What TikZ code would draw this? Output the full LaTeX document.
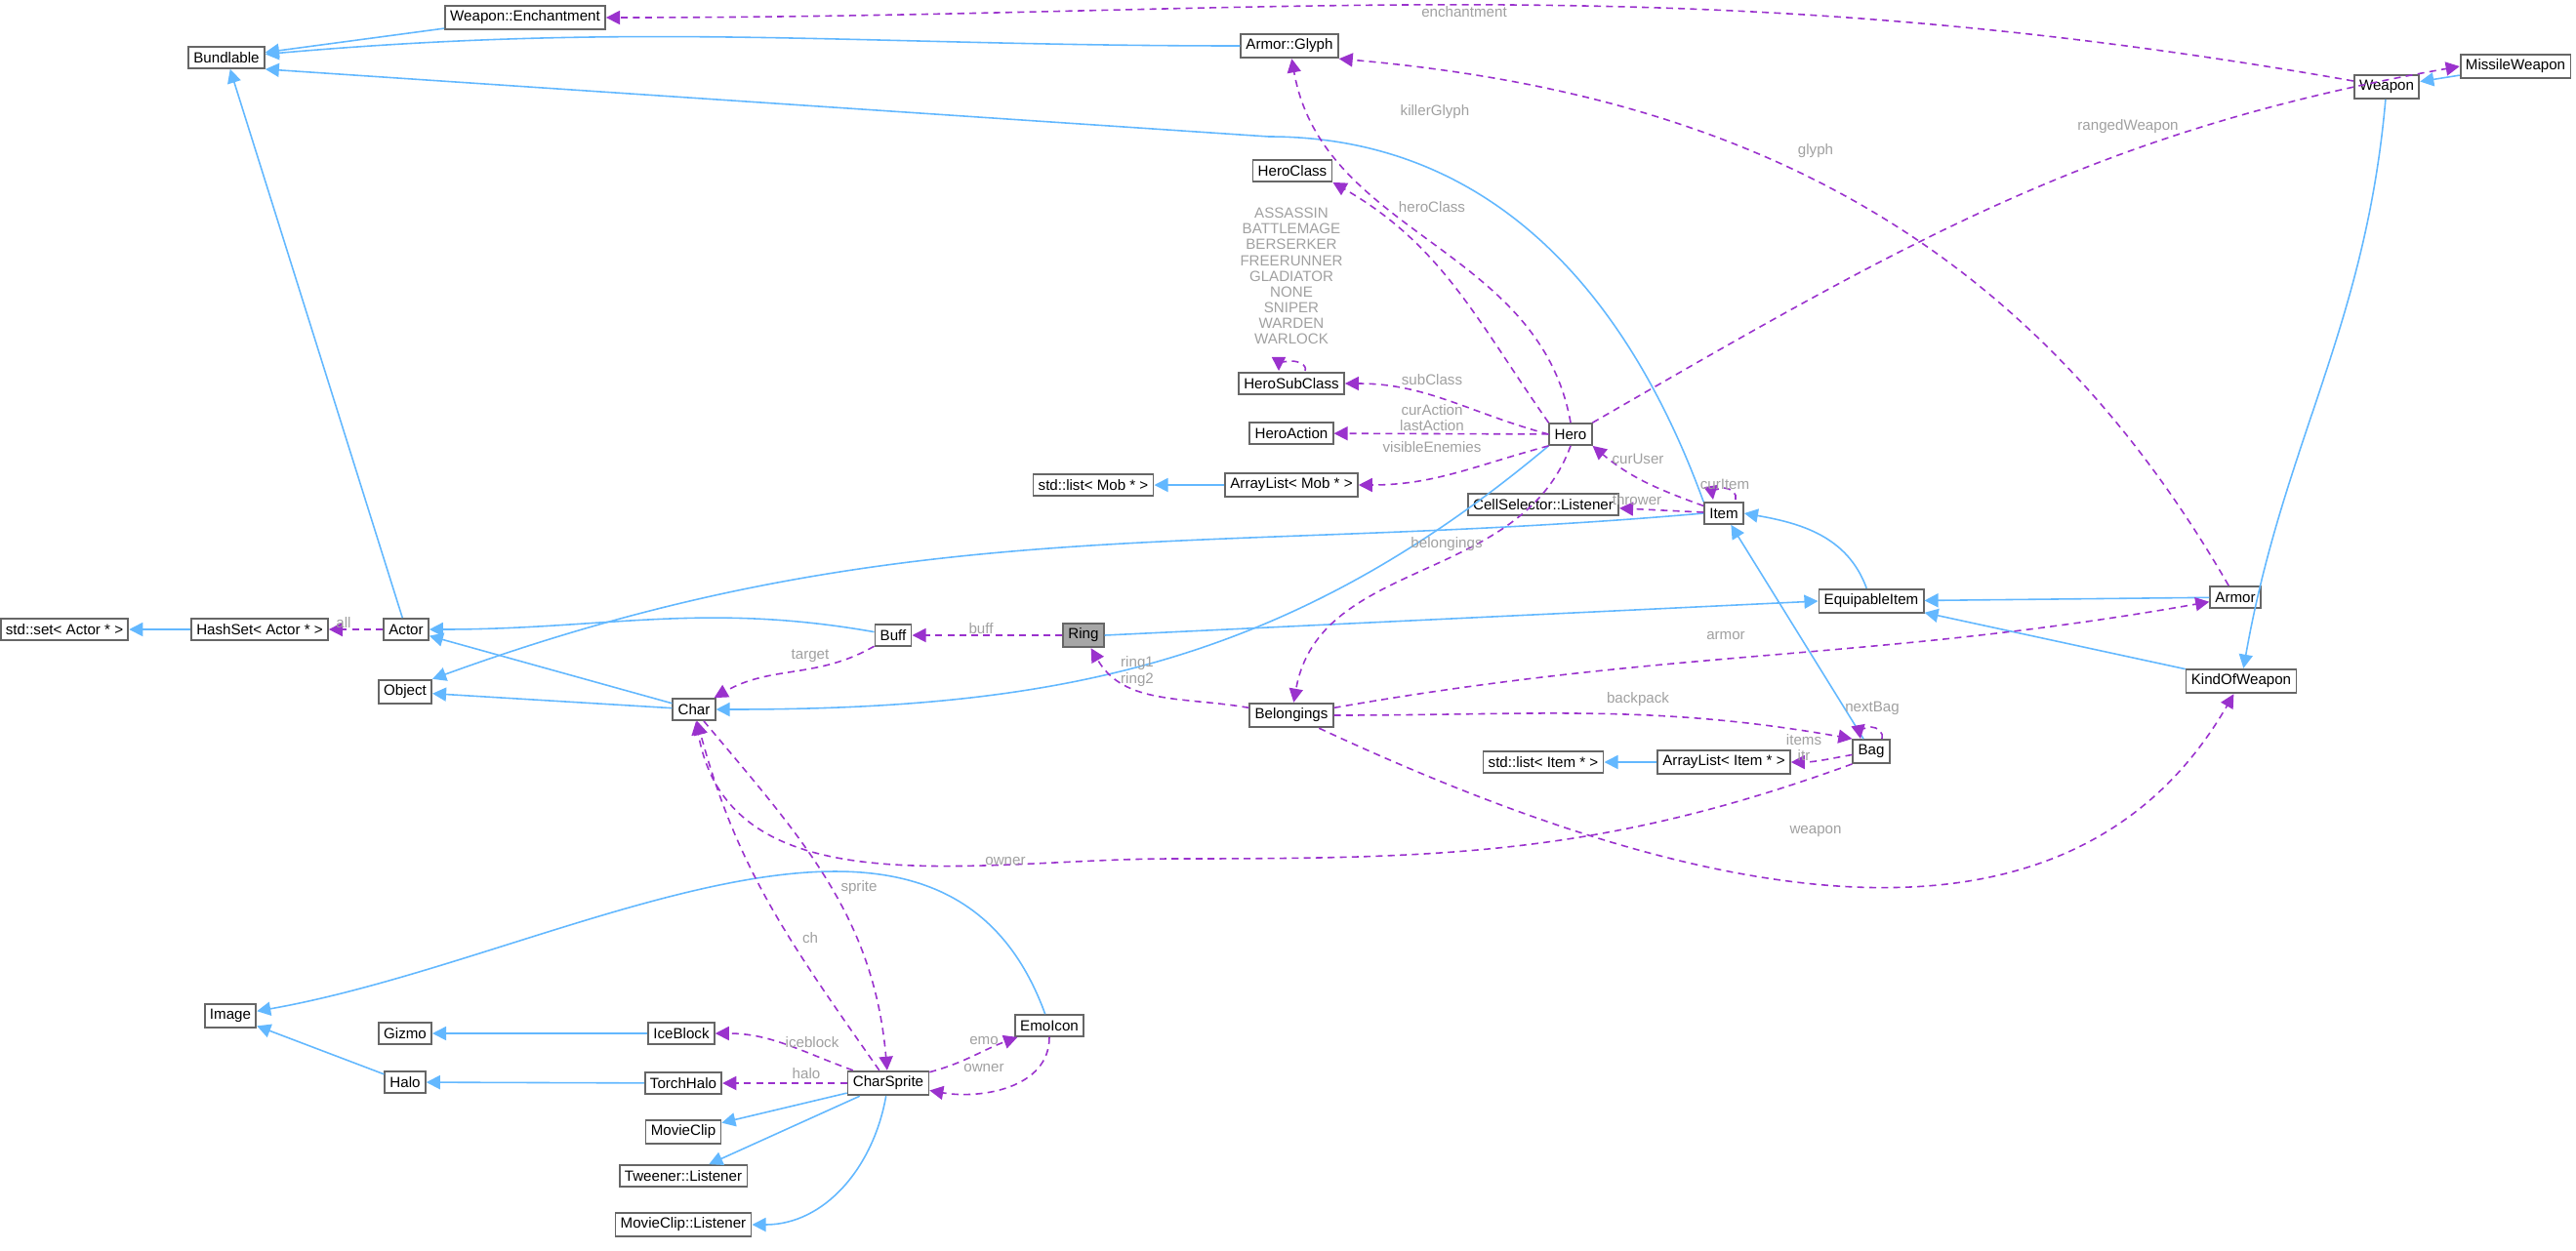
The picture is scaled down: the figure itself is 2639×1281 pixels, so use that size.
\documentclass[tikz,border=0pt]{standalone}
\usepackage{fontspec}
\setmainfont{Liberation Sans}
\usetikzlibrary{arrows.meta}
\definecolor{blue1}{RGB}{99, 184, 255}
\definecolor{purple1}{RGB}{154, 50, 205}
\definecolor{gray1}{RGB}{160, 160, 160}
\tikzset{
  cls/.style={draw=gray!80!black, fill=white, line width=0.5pt, inner sep=1.5pt, minimum height=0.22cm, font=\fontsize{4.3}{5}\selectfont},
  inh/.style={draw=blue1, line width=0.45pt, -{Triangle[length=4pt,width=4pt]}},
  use/.style={draw=purple1, line width=0.45pt, dashed, dash pattern=on 2pt off 1.5pt, -{Triangle[length=4pt,width=4pt]}},
  lbl/.style={text=gray1, font=\fontsize{4.3}{4.6}\selectfont, inner sep=0.5pt, align=center}
}
\begin{document}
\begin{tikzpicture}[x=0.01cm, y=-0.01cm]
  \useasboundingbox (0,0) rectangle (2639,1281);
  \node[cls] (ench) at (538,18) {Weapon::Enchantment};
  \node[cls] (bund) at (232,59) {Bundlable};
  \node[cls] (glyph) at (1321,47) {Armor::Glyph};
  \node[cls] (missile) at (2577,68) {MissileWeapon};
  \node[cls] (weapon) at (2445,89) {Weapon};
  \node[cls] (heroclass) at (1324,175) {HeroClass};
  \node[cls] (subclass) at (1323,393) {HeroSubClass};
  \node[cls] (heroaction) at (1323,444) {HeroAction};
  \node[cls] (hero) at (1609,445) {Hero};
  \node[cls] (listmob) at (1120,497) {std::list< Mob * >};
  \node[cls] (arrmob) at (1323,497) {ArrayList< Mob * >};
  \node[cls] (cellsel) at (1581,517) {CellSelector::Listener};
  \node[cls] (item) at (1766,526) {Item};
  \node[cls] (equip) at (1917,616) {EquipableItem};
  \node[cls] (armor) at (2290,612) {Armor};
  \node[cls] (kind) at (2296,698) {KindOfWeapon};
  \node[cls] (bag) at (1917,770) {Bag};
  \node[cls] (arritem) at (1766,781) {ArrayList< Item * >};
  \node[cls] (listitem) at (1581,781) {std::list< Item * >};
  \node[cls] (belong) at (1323,733) {Belongings};
  \node[cls, fill=gray!70] (ring) at (1110,651) {Ring};
  \node[cls] (buff) at (915,651) {Buff};
  \node[cls] (char) at (711,727) {Char};
  \node[cls] (object) at (415,709) {Object};
  \node[cls] (actor) at (416,645) {Actor};
  \node[cls] (hashset) at (266,645) {HashSet< Actor * >};
  \node[cls] (setactor) at (66,645) {std::set< Actor * >};
  \node[cls] (image) at (236,1041) {Image};
  \node[cls] (gizmo) at (415,1059) {Gizmo};
  \node[cls] (halo) at (415,1109) {Halo};
  \node[cls] (iceblock) at (698,1059) {IceBlock};
  \node[cls] (torch) at (700,1110) {TorchHalo};
  \node[cls] (movie) at (700,1160) {MovieClip};
  \node[cls] (tween) at (700,1205) {Tweener::Listener};
  \node[cls] (movielis) at (700,1255) {MovieClip::Listener};
  \node[cls] (sprite) at (910,1110) {CharSprite};
  \node[cls] (emo) at (1075,1051) {EmoIcon};
  % inheritance
  \draw[inh] (ench) -- (bund);
  \draw[inh] (glyph) to[out=180, in=5] (bund);
  \draw[inh] (item.north west) to[out=110, in=0] (1300,140) -- (bund.south east);
  \draw[inh] (actor) -- (bund);
  \draw[inh] (hashset) -- (setactor);
  \draw[inh] (buff) to[out=170, in=0] (actor);
  \draw[inh] (char) -- (actor);
  \draw[inh] (char) -- (object);
  \draw[inh] (item.west) to[out=185, in=20] (object.north east);
  \draw[inh] (hero.south west) to[out=220, in=0] (char.east);
  \draw[inh] (ring.east) -- (equip.west);
  \draw[inh] (equip) to[out=110, in=-10] (item.east);
  \draw[inh] (armor) -- (equip);
  \draw[inh] (kind) -- (equip);
  \draw[inh] (weapon) to[out=-95, in=80] (kind);
  \draw[inh] (missile) -- (weapon);
  \draw[inh] (bag) -- (item);
  \draw[inh] (arrmob) -- (listmob);
  \draw[inh] (arritem) -- (listitem);
  \draw[inh] (emo) to[out=110, in=10] (image);
  \draw[inh] (iceblock) -- (gizmo);
  \draw[inh] (halo) -- (image);
  \draw[inh] (torch) -- (halo);
  \draw[inh] (sprite) -- (movie);
  \draw[inh] (sprite) -- (tween);
  \draw[inh] (sprite) to[out=-100, in=0] (movielis);
  % associations
  \draw[use] (weapon) to[out=170, in=0] (ench);
  \node[lbl] (l-ench) at (1500,12) {enchantment};
  \draw[use] (hero.north east) to[out=30, in=190] (missile.west);
  \node[lbl] (l-ranged) at (2180,130) {rangedWeapon};
  \draw[use] (armor) to[out=120, in=-5] (glyph.south east);
  \node[lbl] (l-glyph) at (1860,155) {glyph};
  \draw[use] (hero.north) to[out=100, in=-80] (glyph);
  \node[lbl] (l-killer) at (1470,115) {killerGlyph};
  \draw[use] (hero.north west) to[out=125, in=-30] (heroclass.south east);
  \node[lbl] (l-class) at (1467,212) {heroClass};
  \draw[use] (1337,380) to[out=70, in=0] (1323,370) to[out=180, in=90] (1310,380);
  \node[lbl] (enums) at (1323,283) {ASSASSIN\\BATTLEMAGE\\BERSERKER\\FREERUNNER\\GLADIATOR\\NONE\\SNIPER\\WARDEN\\WARLOCK};
  \draw[use] (hero.west) to[out=165, in=0] (subclass);
  \node[lbl] (l-sub) at (1467,389) {subClass};
  \draw[use] (hero) -- (heroaction);
  \node[lbl] (l-act) at (1467,428) {curAction\\lastAction};
  \draw[use] (hero.south west) to[out=195, in=0] (arrmob);
  \node[lbl] (l-vis) at (1467,458) {visibleEnemies};
  \draw[use] (item) to[out=160, in=-40] (hero.south east);
  \node[lbl] (l-user) at (1678,470) {curUser};
  \draw[use] (item) -- (cellsel);
  \node[lbl] (l-throw) at (1677,512) {thrower};
  \draw[use] (1778,512) to[out=70, in=0] (1766,500) to[out=180, in=100] (1755,512);
  \node[lbl] (curitem) at (1767,496) {curItem};
  \draw[use] (hero.south) to[out=-110, in=80] (belong);
  \node[lbl] (l-bel) at (1482,558) {belongings};
  \draw[use] (actor) -- (hashset);
  \node[lbl] (l-all) at (352,638) {all};
  \draw[use] (ring) -- (buff);
  \node[lbl] (l-buff) at (1005,644) {buff};
  \draw[use] (buff) to[out=-150, in=30] (char);
  \node[lbl] (l-target) at (830,672) {target};
  \draw[use] (belong) to[out=170, in=-60] (ring);
  \node[lbl] (l-ring) at (1165,688) {ring1\\ring2};
  \draw[use] (belong) to[out=10, in=190] (armor);
  \node[lbl] (l-armor) at (1768,651) {armor};
  \draw[use] (belong) to[out=0, in=170] (bag.north west);
  \node[lbl] (l-back) at (1678,717) {backpack};
  \draw[use] (1928,757) to[out=70, in=0] (1917,745) to[out=180, in=100] (1906,757);
  \node[lbl] (nextbag) at (1918,726) {nextBag};
  \draw[use] (bag) to[out=190, in=0] (arritem);
  \node[lbl] (l-items) at (1848,766) {items\\itr};
  \draw[use] (belong) to[out=-25, in=-120] (kind);
  \node[lbl] (l-weap) at (1860,852) {weapon};
  \draw[use] (bag.south west) to[out=-160, in=0] (1200,880) to[out=180, in=-80] (char);
  \node[lbl] (l-owner) at (1030,882) {owner};
  \draw[use] (sprite) to[out=125, in=-75] (char);
  \node[lbl] (l-ch) at (830,961) {ch};
  \draw[use] (char) to[out=-50, in=95] (sprite);
  \node[lbl] (l-sprite) at (880,910) {sprite};
  \draw[use] (sprite) to[out=160, in=0] (iceblock);
  \node[lbl] (l-ice) at (832,1068) {iceblock};
  \draw[use] (sprite) -- (torch);
  \node[lbl] (l-halo) at (826,1100) {halo};
  \draw[use] (sprite) to[out=15, in=200] (emo);
  \node[lbl] (l-emo) at (1008,1066) {emo};
  \draw[use] (emo) to[out=-90, in=-10] (sprite);
  \node[lbl] (l-owner2) at (1008,1094) {owner};
\end{tikzpicture}
\end{document}
